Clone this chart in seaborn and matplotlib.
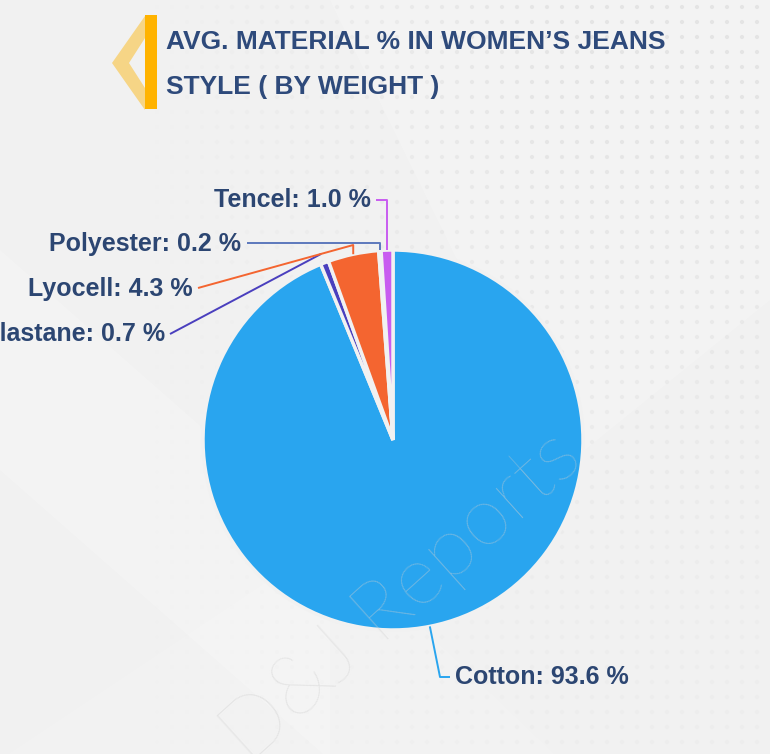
import numpy as np
import matplotlib
matplotlib.use("Agg")
import matplotlib.pyplot as plt
import seaborn as sns
from matplotlib.patches import Polygon, Rectangle

# ---- data ----
materials = ["Cotton", "Elastane", "Lyocell", "Polyester", "Tencel"]
shares = [93.6, 0.7, 4.3, 0.2, 1.0]
colors_hex = ["#29A5EF", "#4A3FBE", "#F46530", "#5C78BC", "#C85CF0"]
title_lines = ["AVG. MATERIAL % IN WOMEN’S JEANS", "STYLE ( BY WEIGHT )"]

sns.set_style("white")
plt.rcParams["font.family"] = ["Liberation Sans", "DejaVu Sans"]

W, H = 770, 754
fig = plt.figure(figsize=(W / 100, H / 100), dpi=100)
bg = "#F1F1F1"
fig.patch.set_facecolor(bg)
ax = fig.add_axes([0, 0, 1, 1])
ax.set_facecolor(bg)

def py(y):  # pixel-from-top to data y
    return H - y

# ---- background decoration ----
for pts, a in [
    ([(0, py(250)), (330, py(540)), (330, py(760)), (0, py(470))], 0.18),
    ([(0, py(760)), (330, py(540)), (560, py(760))], 0.14),
    ([(330, py(0)), (770, py(0)), (770, py(300)), (560, py(470))], 0.18),
]:
    ax.add_patch(Polygon(pts, closed=True, facecolor="white", alpha=a,
                         edgecolor="none", zorder=0))

gx, gy = np.meshgrid(np.arange(7, W, 15), np.arange(7, H, 15))
gx = gx.ravel(); gy = gy.ravel()
fade = np.clip((gx - 150) / 400, 0, 1) * np.clip(1 - (gy - 100) / 700, 0.25, 1)
dot_colors = np.zeros((len(gx), 4))
dot_colors[:, :3] = 0.86
dot_colors[:, 3] = 0.6 * fade
ax.scatter(gx, py(gy), s=9, c=dot_colors, linewidths=0, zorder=0.5)

# ---- pie ----
cx, cy, R = 393, py(440), 190
palette = sns.color_palette(colors_hex)
wedges, _ = ax.pie(shares, colors=palette, startangle=90, counterclock=False,
                   center=(cx, cy), radius=R,
                   wedgeprops=dict(edgecolor=bg, linewidth=2.5))
for w in wedges:
    w.set_zorder(2)

ax.set_xlim(0, W)
ax.set_ylim(0, H)
ax.set_aspect("equal")
ax.axis("off")

# leader lines: (anchor radius factor, path points in px, text pos px, ha)
layout = {
    "Tencel":    dict(r=1.0,  path=[("v", 200), (376, 200)], text=(371, 200), ha="right"),
    "Polyester": dict(r=1.0,  path=[("v", 243), (247, 243)], text=(241, 244), ha="right"),
    "Lyocell":   dict(r=1.0,  path=[("v", 245), (198, 288)], text=(193, 289), ha="right"),
    "Elastane":  dict(r=1.05, path=[(170, 334)], text=(165, 334), ha="right"),
    "Cotton":    dict(r=1.0,  path=[(440, 677), (450, 677)], text=(455, 677), ha="left"),
}
label_color = "#2C4672"
for w, name, val, col in zip(wedges, materials, shares, colors_hex):
    mid = np.deg2rad((w.theta1 + w.theta2) / 2)
    L = layout[name]
    ax0 = cx + L["r"] * R * np.cos(mid)
    ay0 = cy + L["r"] * R * np.sin(mid)
    xs, ys = [ax0], [ay0]
    for p in L["path"]:
        if p[0] == "v":
            xs.append(xs[-1]); ys.append(py(p[1]))
        else:
            xs.append(p[0]); ys.append(py(p[1]))
    ax.plot(xs, ys, color=col, lw=1.4, zorder=3, clip_on=False,
            solid_capstyle="butt")
    tx, ty = L["text"]
    ax.text(tx, py(ty), f"{name}: {val:.1f} %", ha=L["ha"], va="center",
            fontsize=18, fontweight="bold", color=label_color, zorder=4)

# ---- watermark ----
ax.text(402, py(597), "D&J Reports", rotation=42, rotation_mode="anchor",
        ha="center", va="center", fontsize=60, fontfamily="Lato",
        fontweight="light", color="#cfcfcf", alpha=0.45, zorder=3)

# ---- title decoration ----
chev = [(145, py(16)), (112, py(63)), (145, py(110)), (145, py(88)),
        (129, py(63)), (145, py(38))]
ax.add_patch(Polygon(chev, closed=True, facecolor="#F7D27A", edgecolor="none",
                     alpha=0.9, zorder=4))
ax.add_patch(Rectangle((145, py(109)), 12, 94, facecolor="#FFB300",
                       edgecolor="none", zorder=5))

title_color = "#2E4A7B"
ax.text(166, py(42), title_lines[0], ha="left", va="center", fontsize=19,
        fontweight="bold", color=title_color, zorder=5)
ax.text(166, py(87), title_lines[1], ha="left", va="center", fontsize=19,
        fontweight="bold", color=title_color, zorder=5)

fig.savefig("out.png", dpi=100, facecolor=bg)
